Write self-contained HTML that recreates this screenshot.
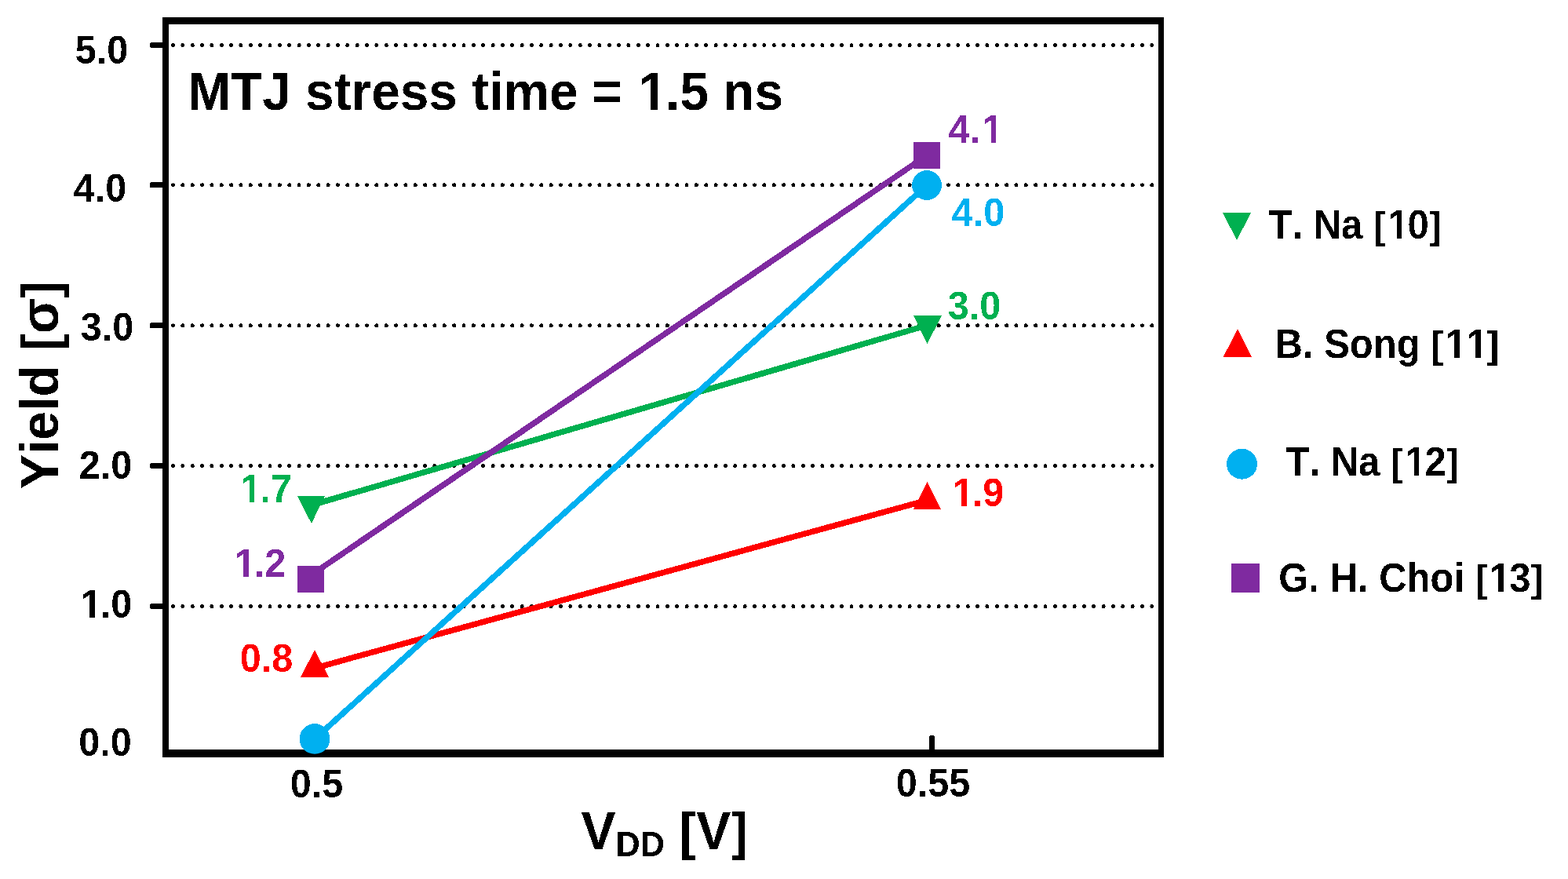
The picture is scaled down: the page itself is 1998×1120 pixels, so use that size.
<!DOCTYPE html>
<html>
<head>
<meta charset="utf-8">
<title>Yield vs VDD</title>
<style>
html,body{margin:0;padding:0;background:#fff;}
body{width:1998px;height:1120px;overflow:hidden;}
svg{display:block;}
text{font-family:"Liberation Sans",Arial,sans-serif;font-weight:bold;font-kerning:none;font-feature-settings:"kern" 0;}
</style>
</head>
<body>
<svg width="1998" height="1120" viewBox="0 0 1998 1120">
<rect x="0" y="0" width="1998" height="1120" fill="#fff"/>
<filter id="alias" x="0" y="0" width="1998" height="1120" filterUnits="userSpaceOnUse" color-interpolation-filters="sRGB"><feComponentTransfer><feFuncA type="discrete" tableValues="0 1"/></feComponentTransfer></filter>
<g filter="url(#alias)">
<g stroke="#000" stroke-width="5" stroke-linecap="round" stroke-dasharray="0 12.35" fill="none">
<line x1="220.5" y1="57.5" x2="1470" y2="57.5"/>
<line x1="220.5" y1="235.7" x2="1470" y2="235.7"/>
<line x1="220.5" y1="414.7" x2="1470" y2="414.7"/>
<line x1="220.5" y1="593.4" x2="1470" y2="593.4"/>
<line x1="220.5" y1="772.4" x2="1470" y2="772.4"/>
</g>
<g fill="#000">
<rect x="207" y="22" width="8" height="943"/>
<rect x="1476" y="22" width="7" height="943"/>
<rect x="207" y="22" width="1276" height="9"/>
<rect x="207" y="955" width="1276" height="10"/>
</g>
<g fill="#000">
<rect x="191" y="54.1" width="18" height="6.8" rx="1.6"/>
<rect x="191" y="232.2" width="18" height="6.8" rx="1.6"/>
<rect x="191" y="411.3" width="18" height="6.8" rx="1.6"/>
<rect x="191" y="590.1" width="18" height="6.8" rx="1.6"/>
<rect x="191" y="769.0" width="18" height="6.8" rx="1.6"/>
<rect x="1184" y="937" width="6.8" height="20" rx="1.6"/>
<rect x="400.6" y="937" width="6.8" height="20" rx="1.6"/>
</g>
<text transform="translate(95.73,81.00) scale(0.9609,1)" font-size="50.47" fill="#000">5.0</text>
<text transform="translate(93.73,257.00) scale(0.9609,1)" font-size="50.47" fill="#000">4.0</text>
<text transform="translate(102.73,434.00) scale(0.9609,1)" font-size="50.47" fill="#000">3.0</text>
<text transform="translate(100.73,610.00) scale(0.9609,1)" font-size="50.47" fill="#000">2.0</text>
<text transform="translate(100.73,787.00) scale(0.9609,1)" font-size="50.47" fill="#000" dx="2.08 -2.08 0.00" clip-path="url(#c0)">1.0</text>
<text transform="translate(100.23,963.00) scale(0.9609,1)" font-size="50.47" fill="#000">0.0</text>
<text transform="translate(369.73,1016.00) scale(0.9609,1)" font-size="50.47" fill="#000">0.5</text>
<text transform="translate(1141.73,1015.00) scale(0.9609,1)" font-size="50.47" fill="#000">0.55</text>
<text transform="translate(239.20,140.00) scale(0.9609,1)" font-size="68.48" fill="#000" dx="0.00 0.00 0.00 0.00 0.00 0.00 0.00 0.00 0.00 0.00 0.00 0.00 0.00 0.00 0.00 0.00 0.00 0.00 2.08 -2.08 0.00 0.00 0.00 0.00" clip-path="url(#c1)">MTJ stress time = 1.5 ns</text>
<g transform="translate(74,623.13) rotate(-90)"><text transform="translate(0.00,0.00) scale(0.9609,1)" font-size="68.69" fill="#000" dx="0.00 0.00 0.00 0.00 0.00 0.00 0.45 0.45 0.45">Yield <tspan font-size="66.00">[</tspan>σ<tspan font-size="66.00">]</tspan></text></g>
<text transform="translate(740.55,1082) scale(0.9609,1)" font-size="68.69" fill="#000">V<tspan font-size="44.96" dy="9">DD</tspan><tspan dy="-9"> </tspan><tspan font-size="66.00" dx="0.45">[</tspan><tspan dx="0.45">V</tspan><tspan font-size="66.00" dx="0.45">]</tspan></text>
<g stroke-width="7.5" fill="none">
<line x1="396.7" y1="643.7" x2="1181.5" y2="414.5" stroke="#00B050"/>
<line x1="401" y1="851.3" x2="1181.5" y2="637.3" stroke="#FF0000"/>
<line x1="396" y1="733" x2="1181" y2="198" stroke="#7F2AA0"/>
</g>
<polygon points="379.2,632 414,632 396.8,667" fill="#00B050"/>
<polygon points="1164,402 1200,402 1181.5,438" fill="#00B050"/>
<polygon points="383,863 419,863 401,828" fill="#FF0000"/>
<polygon points="1164,649 1199,649 1181.5,614" fill="#FF0000"/>
<rect x="379" y="721" width="34" height="34" fill="#7F2AA0"/>
<rect x="1164" y="181" width="34" height="34" fill="#7F2AA0"/>
<line x1="401" y1="941.5" x2="1181" y2="236" stroke="#00B0F0" stroke-width="7.5"/>
<circle cx="401" cy="941.5" r="19.3" fill="#00B0F0"/>
<circle cx="1181" cy="236" r="19" fill="#00B0F0"/>
<text transform="translate(304.23,640.00) scale(0.9609,1)" font-size="50.47" fill="#00B050" dx="2.08 -2.08 0.00" clip-path="url(#c2)">1.7</text>
<text transform="translate(296.73,735.00) scale(0.9609,1)" font-size="50.47" fill="#7F2AA0" dx="2.08 -2.08 0.00" clip-path="url(#c3)">1.2</text>
<text transform="translate(305.73,856.00) scale(0.9609,1)" font-size="50.47" fill="#FF0000">0.8</text>
<text transform="translate(1208.73,182.00) scale(0.9609,1)" font-size="50.47" fill="#7F2AA0" dx="0.00 0.00 2.08" clip-path="url(#c4)">4.1</text>
<text transform="translate(1212.73,288.00) scale(0.9609,1)" font-size="50.47" fill="#00B0F0">4.0</text>
<text transform="translate(1207.73,407.00) scale(0.9609,1)" font-size="50.47" fill="#00B050">3.0</text>
<text transform="translate(1211.73,645.00) scale(0.9609,1)" font-size="50.47" fill="#FF0000" dx="2.08 -2.08 0.00" clip-path="url(#c5)">1.9</text>
<polygon points="1558,271 1594,271 1576,306" fill="#00B050"/>
<polygon points="1558.7,455 1595.2,455 1577,419" fill="#FF0000"/>
<circle cx="1582.5" cy="591.3" r="19.5" fill="#00B0F0"/>
<rect x="1568.8" y="718" width="36" height="37" fill="#7F2AA0"/>
<text transform="translate(1616.45,304.00) scale(0.9609,1)" font-size="50.99" fill="#000" dx="0.00 0.00 0.00 0.00 0.00 0.00 0.33 2.41 -2.08 0.33" clip-path="url(#c6)">T. Na <tspan font-size="49.00">[</tspan>10<tspan font-size="49.00">]</tspan></text>
<text transform="translate(1624.52,456.00) scale(0.9609,1)" font-size="50.99" fill="#000" dx="0.00 0.00 0.00 0.00 0.00 0.00 0.00 0.00 0.33 2.41 0.00 -1.75" clip-path="url(#c7)">B. Song <tspan font-size="49.00">[</tspan>11<tspan font-size="49.00">]</tspan></text>
<text transform="translate(1638.55,606.00) scale(0.9609,1)" font-size="50.99" fill="#000" dx="0.00 0.00 0.00 0.00 0.00 0.00 0.33 2.41 -2.08 0.33" clip-path="url(#c8)">T. Na <tspan font-size="49.00">[</tspan>12<tspan font-size="49.00">]</tspan></text>
<text transform="translate(1629.19,754.00) scale(0.9609,1)" font-size="50.99" fill="#000" dx="0.00 0.00 0.00 0.00 0.00 0.00 0.00 0.00 0.00 0.00 0.00 0.33 2.41 -2.08 0.33" clip-path="url(#c9)">G. H. Choi <tspan font-size="49.00">[</tspan>13<tspan font-size="49.00">]</tspan></text>
</g>
<defs><clipPath id="c0" clipPathUnits="userSpaceOnUse"><path clip-rule="evenodd" d="M-50,-100.9H120.2V50.5H-50ZM2.57,-5.45H13.86V1.5H2.57ZM20.79,-5.45H29.73V1.5H20.79Z"/></clipPath><clipPath id="c1" clipPathUnits="userSpaceOnUse"><path clip-rule="evenodd" d="M-50,-137.0H839.8V68.5H-50ZM598.39,-7.29H613.70V1.5H598.39ZM623.10,-7.29H635.23V1.5H623.10Z"/></clipPath><clipPath id="c2" clipPathUnits="userSpaceOnUse"><path clip-rule="evenodd" d="M-50,-100.9H120.2V50.5H-50ZM2.57,-5.45H13.86V1.5H2.57ZM20.79,-5.45H29.73V1.5H20.79Z"/></clipPath><clipPath id="c3" clipPathUnits="userSpaceOnUse"><path clip-rule="evenodd" d="M-50,-100.9H120.2V50.5H-50ZM2.57,-5.45H13.86V1.5H2.57ZM20.79,-5.45H29.73V1.5H20.79Z"/></clipPath><clipPath id="c4" clipPathUnits="userSpaceOnUse"><path clip-rule="evenodd" d="M-50,-100.9H122.2V50.5H-50ZM44.67,-5.45H55.96V1.5H44.67ZM62.88,-5.45H71.83V1.5H62.88Z"/></clipPath><clipPath id="c5" clipPathUnits="userSpaceOnUse"><path clip-rule="evenodd" d="M-50,-100.9H120.2V50.5H-50ZM2.57,-5.45H13.86V1.5H2.57ZM20.79,-5.45H29.73V1.5H20.79Z"/></clipPath><clipPath id="c6" clipPathUnits="userSpaceOnUse"><path clip-rule="evenodd" d="M-50,-102.0H279.2V51.0H-50ZM158.40,-5.50H169.80V1.5H158.40ZM176.80,-5.50H185.84V1.5H176.80Z"/></clipPath><clipPath id="c7" clipPathUnits="userSpaceOnUse"><path clip-rule="evenodd" d="M-50,-102.0H347.1V51.0H-50ZM226.35,-5.50H237.76V1.5H226.35ZM244.75,-5.50H253.79V1.5H244.75ZM254.71,-5.50H266.12V1.5H254.71ZM273.11,-5.50H282.15V1.5H273.11Z"/></clipPath><clipPath id="c8" clipPathUnits="userSpaceOnUse"><path clip-rule="evenodd" d="M-50,-102.0H279.2V51.0H-50ZM158.40,-5.50H169.80V1.5H158.40ZM176.80,-5.50H185.84V1.5H176.80Z"/></clipPath><clipPath id="c9" clipPathUnits="userSpaceOnUse"><path clip-rule="evenodd" d="M-50,-102.0H401.0V51.0H-50ZM280.18,-5.50H291.59V1.5H280.18ZM298.58,-5.50H307.62V1.5H298.58Z"/></clipPath></defs>
</svg>
</body>
</html>
